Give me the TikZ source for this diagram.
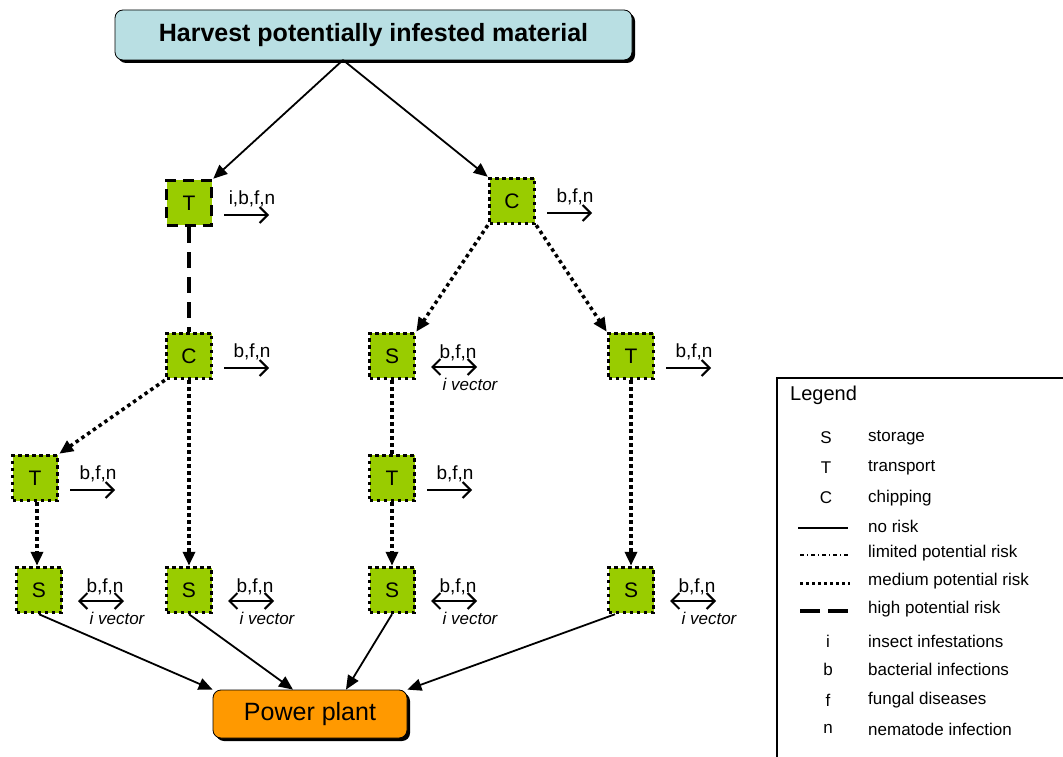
\documentclass[tikz,border=0pt]{standalone}
\usepackage{fontspec}
\setmainfont{Liberation Sans}
\usetikzlibrary{arrows.meta,shadows}
\definecolor{titlecol}{HTML}{B9DFE3}
\definecolor{boxgreen}{HTML}{99CC00}
\definecolor{plantorange}{HTML}{FF9900}
\tikzset{
  stepbox/.style={draw=black, fill=boxgreen, minimum size=45pt, inner sep=0pt,
    font=\fontsize{21}{24}\selectfont, line width=3.5pt, dash pattern=on 3.5pt off 3.5pt},
  highbox/.style={stepbox, line width=3.5pt, dash pattern=on 11pt off 7pt},
  endbox/.style={rounded corners=8pt, draw=black, line width=0.8pt, inner sep=0pt,
    drop shadow={shadow xshift=3pt, shadow yshift=-3pt, opacity=1, fill=black}},
  noline/.style={line width=1.8pt},
  medline/.style={line width=3.5pt, dash pattern=on 3.5pt off 3.5pt},
  highline/.style={line width=3.5pt, dash pattern=on 16pt off 9pt},
  limline/.style={line width=1.3pt, dash pattern=on 4pt off 3pt on 1pt off 3pt},
  tip/.style={-{Triangle[length=14pt,width=12pt]}},
  labarrow/.style={line width=2pt, -{Straight Barb[length=8pt,width=16pt,line width=2pt]}},
  labboth/.style={line width=2pt, {Straight Barb[length=8pt,width=16pt,line width=2pt]}-{Straight Barb[length=8pt,width=16pt,line width=2pt]}},
  lbl/.style={font=\fontsize{19}{22}\selectfont, inner sep=0pt},
  vlbl/.style={font=\fontsize{17}{20}\selectfont\itshape, inner sep=0pt},
  legtxt/.style={font=\fontsize{17}{20}\selectfont, anchor=west, inner sep=0pt},
  legsym/.style={font=\fontsize{17}{20}\selectfont, inner sep=0pt},
}
\newcommand\riskout[2]{%
  \coordinate (#1-a) at ([xshift=35pt,yshift=-12pt]#1.center);
  \coordinate (#1-b) at ([xshift=80pt,yshift=-12pt]#1.center);
  \draw[labarrow] (#1-a) -- (#1-b);
  \node[lbl] (#1-t) at ([xshift=63pt,yshift=4pt]#1.center) {#2};}
\newcommand\riskboth[1]{%
  \coordinate (#1-a) at ([xshift=39pt,yshift=-11pt]#1.center);
  \coordinate (#1-b) at ([xshift=85pt,yshift=-11pt]#1.center);
  \draw[labboth] (#1-a) -- (#1-b);
  \node[lbl] (#1-t) at ([xshift=66pt,yshift=3pt]#1.center) {b,f,n};
  \node[vlbl] (#1-v) at ([xshift=78pt,yshift=-28pt]#1.center) {i vector};}
\begin{document}
\begin{tikzpicture}[x=1pt,y=1pt]
\useasboundingbox (0,0) rectangle (1063,756);
% top and bottom boxes
\node[endbox, fill=titlecol, minimum width=517pt, minimum height=50pt,
  font=\fontsize{25}{30}\selectfont\bfseries] (harv) at (373.5,721) {Harvest potentially infested material};
\node[endbox, fill=plantorange, minimum width=194pt, minimum height=48pt,
  font=\fontsize{25}{30}\selectfont] (plant) at (310,42) {Power plant};
\coordinate (hb) at (343,696);
% step boxes
\node[highbox] (T1) at (189,553) {T};
\node[stepbox] (C1) at (512,555) {C};
\node[stepbox] (C2) at (189,400) {C};
\node[stepbox] (S1) at (392,400) {S};
\node[stepbox] (T2) at (631,400) {T};
\node[stepbox] (T3) at (35,278) {T};
\node[stepbox] (T4) at (392,278) {T};
\node[stepbox] (S3) at (39,166) {S};
\node[stepbox] (S2) at (189,166) {S};
\node[stepbox] (S4) at (392,166) {S};
\node[stepbox] (S5) at (631,166) {S};
% connectors
\draw[noline,tip] (hb) -- (T1.north east);
\draw[noline,tip] (hb) -- (C1.north west);
\draw[highline] (T1.south) -- (C2.north);
\draw[medline,tip] (C1.south west) -- (S1.north east);
\draw[medline,tip] (C1.south east) -- (T2.north west);
\draw[medline,tip] (C2.south west) -- (T3.north east);
\draw[medline,tip] (C2.south) -- (S2.north);
\draw[medline] (S1.south) -- (T4.north);
\draw[medline,tip] ([xshift=2pt]T3.south) -- ([xshift=-2pt]S3.north);
\draw[medline,tip] (T4.south) -- (S4.north);
\draw[medline,tip] (T2.south) -- (S5.north);
\draw[noline,tip] (S3.south) -- (plant.north west);
\draw[noline,tip] (S2.south) -- ([xshift=-17pt]plant.north);
\draw[noline,tip] (S4.south) -- ([xshift=36pt]plant.north);
\draw[noline,tip] ([xshift=-16pt]S5.south) -- (plant.north east);
% risk labels
\riskout{T1}{i,b,f,n}
\riskout{C1}{b,f,n}
\riskout{C2}{b,f,n}
\riskout{T2}{b,f,n}
\riskout{T3}{b,f,n}
\riskout{T4}{b,f,n}
\riskboth{S1}
\riskboth{S3}
\riskboth{S2}
\riskboth{S4}
\riskboth{S5}
% legend
\draw[line width=1.2pt] (777,-10) rectangle (1075,378);
\node[font=\fontsize{20}{24}\selectfont, anchor=west, inner sep=0pt] (legtitle) at (790,361) {Legend};
\node[legsym] (ls) at (826,318) {S};
\node[legtxt] (lst) at (868,318) {storage};
\node[legsym] (lt) at (826,288) {T};
\node[legtxt] (ltt) at (868,288) {transport};
\node[legsym] (lc) at (826,258) {C};
\node[legtxt] (lct) at (868,258) {chipping};
\coordinate (l1a) at (798,228); \coordinate (l1b) at (848,228);
\draw[line width=1.3pt] (l1a) -- (l1b);
\node[legtxt] (l1t) at (868,230) {no risk};
\coordinate (l2a) at (800,201); \coordinate (l2b) at (849,201);
\draw[limline] (l2a) -- (l2b);
\node[legtxt] (l2t) at (868,203) {limited potential risk};
\coordinate (l3a) at (800,173); \coordinate (l3b) at (850,173);
\draw[line width=3pt, dash pattern=on 3pt off 3pt] (l3a) -- (l3b);
\node[legtxt] (l3t) at (868,175) {medium potential risk};
\coordinate (l4a) at (800,145); \coordinate (l4b) at (849,145);
\draw[line width=3.5pt, dash pattern=on 20pt off 8pt] (l4a) -- (l4b);
\node[legtxt] (l4t) at (868,147) {high potential risk};
\node[legsym] (li) at (828,115) {i};
\node[legtxt] (lit) at (868,115) {insect infestations};
\node[legsym] (lb) at (828,87) {b};
\node[legtxt] (lbt) at (868,87) {bacterial infections};
\node[legsym] (lf) at (828,56) {f};
\node[legtxt] (lft) at (868,56) {fungal diseases};
\node[legsym] (ln) at (828,27) {n};
\node[legtxt] (lnt) at (868,27) {nematode infection};
\end{tikzpicture}
\end{document}
